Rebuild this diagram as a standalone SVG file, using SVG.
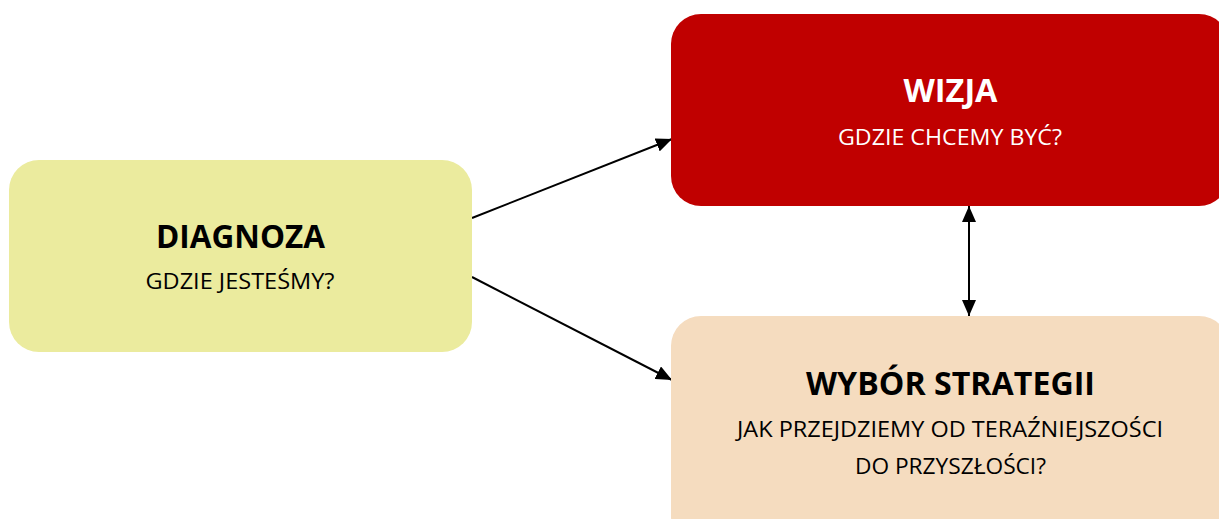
<svg xmlns="http://www.w3.org/2000/svg" width="1219" height="519" viewBox="0 0 1219 519">
<defs>
<style>
.t{font-family:"Open Sans","Liberation Sans",sans-serif;font-weight:bold;font-size:32px;text-anchor:middle}
.s{font-family:"Open Sans","Liberation Sans",sans-serif;font-size:21px;text-anchor:middle}
.c{stroke:#000;stroke-width:2;fill:none}
</style>
<marker id="a" viewBox="0 0 16 14" refX="16" refY="7" markerWidth="16" markerHeight="14" markerUnits="userSpaceOnUse" orient="auto-start-reverse">
<path d="M0,0 L16,7 L0,14 z" fill="#000"/>
</marker>
</defs>
<rect width="1219" height="519" fill="#fff"/>
<g id="connectors">
<line class="c" x1="472" y1="218" x2="672" y2="139" marker-end="url(#a)"/>
<line class="c" x1="472" y1="277" x2="672" y2="380" marker-end="url(#a)"/>
<line class="c" x1="969" y1="206" x2="969" y2="316" marker-start="url(#a)" marker-end="url(#a)"/>
</g>
<g id="diagnoza">
<rect x="9" y="160" width="463" height="192" rx="30" fill="#EBEB9E"/>
<text class="t" x="240.5" y="248" textLength="169" lengthAdjust="spacingAndGlyphs">DIAGNOZA</text>
<text class="s" x="240" y="289" textLength="189" lengthAdjust="spacingAndGlyphs">GDZIE JESTEŚMY?</text>
</g>
<g id="wizja">
<rect x="671" y="14" width="558" height="192" rx="30" fill="#C00000"/>
<text class="t" x="950.5" y="102" fill="#fff" textLength="94" lengthAdjust="spacingAndGlyphs">WIZJA</text>
<text class="s" x="950" y="145" fill="#fff" textLength="224" lengthAdjust="spacingAndGlyphs">GDZIE CHCEMY BYĆ?</text>
</g>
<g id="wybor">
<rect x="671" y="316" width="558" height="230" rx="30" fill="#F5DCBF"/>
<text class="t" x="950.5" y="395" textLength="289" lengthAdjust="spacingAndGlyphs">WYBÓR STRATEGII</text>
<text class="s" x="950" y="437" textLength="426" lengthAdjust="spacingAndGlyphs">JAK PRZEJDZIEMY OD TERAŹNIEJSZOŚCI</text>
<text class="s" x="950.5" y="474" textLength="191" lengthAdjust="spacingAndGlyphs">DO PRZYSZŁOŚCI?</text>
</g>
</svg>
